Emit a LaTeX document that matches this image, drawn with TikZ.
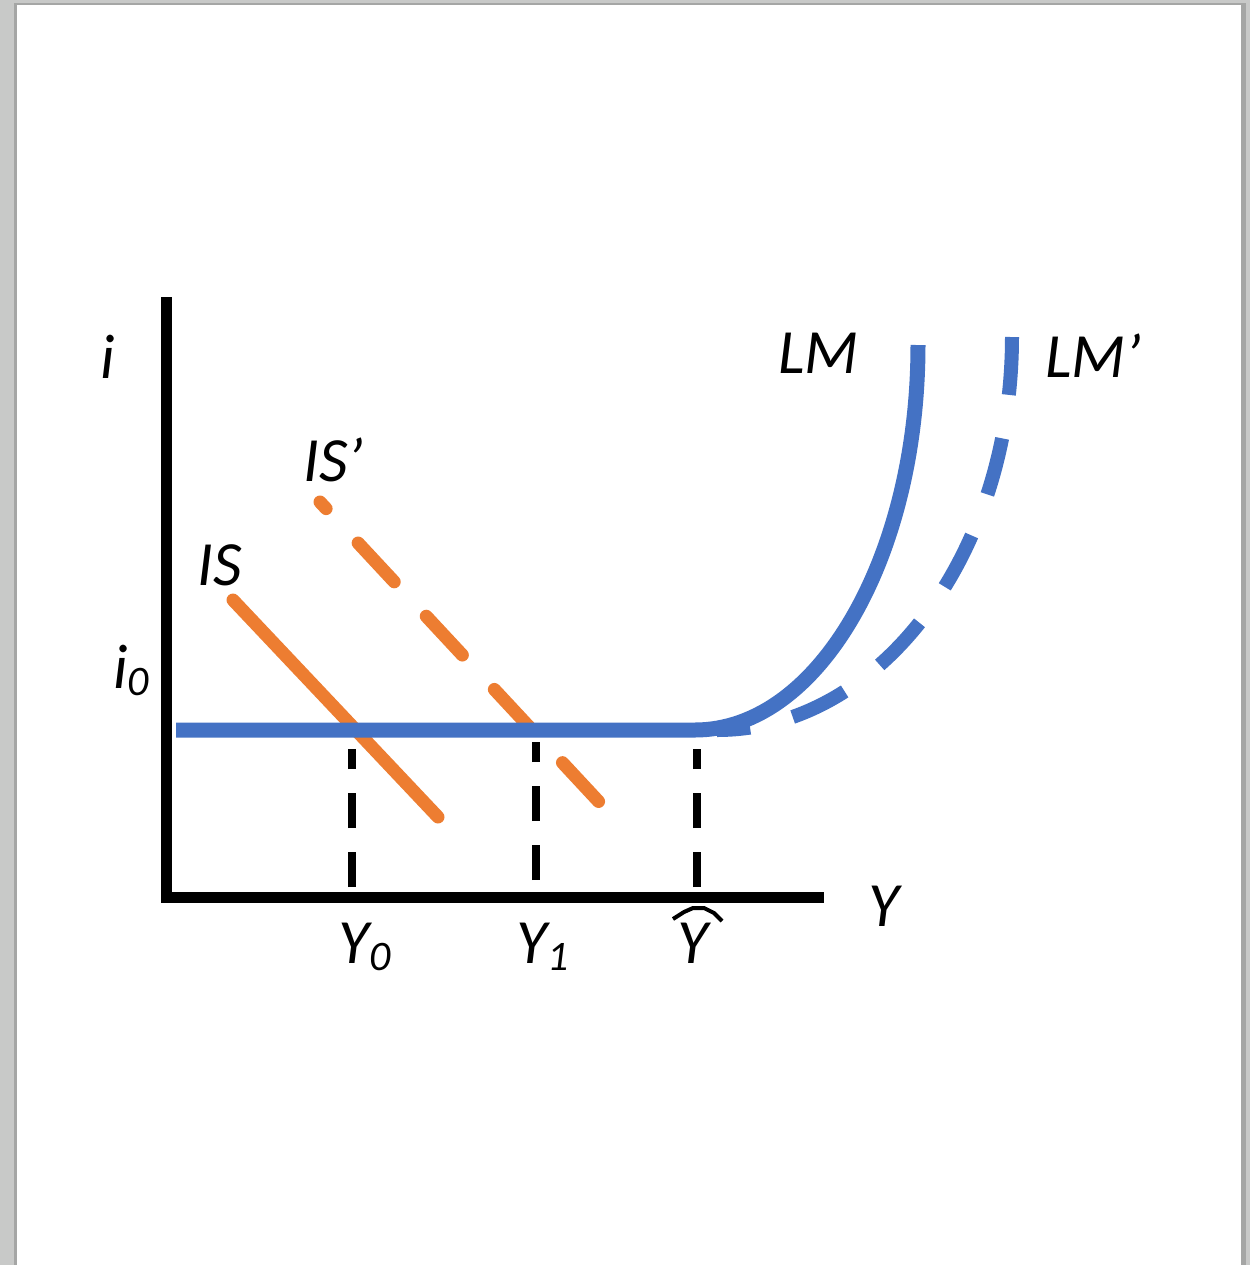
\documentclass[tikz,border=0pt]{standalone}
\usepackage{fontspec}
\setmainfont{Carlito}
\definecolor{lmblue}{HTML}{4472C4}
\definecolor{isorange}{HTML}{ED7D31}
\definecolor{pagegray}{RGB}{200,201,200}
\definecolor{shadowgray}{RGB}{165,166,165}
\tikzset{
  axisline/.style={line width=5.5pt, line cap=rect},
  lmline/.style={lmblue, line width=7.5pt},
  lmdash/.style={lmblue, line width=7pt, dash pattern=on 29pt off 22pt},
  isline/.style={isorange, line width=6.5pt, line cap=round},
  isdash/.style={isorange, line width=6.5pt, line cap=round, dash pattern=on 26.5pt off 23.5pt, dash phase=22pt},
  guide/.style={line width=3.75pt, dash pattern=on 17.5pt off 12pt},
  lbl/.style={inner sep=0pt, anchor=base west, font=\fontsize{31.5}{36}\selectfont\itshape},
}
\newcommand{\lsub}[1]{\raisebox{-3.8pt}{\fontsize{21}{21}\selectfont #1}}
\begin{document}
\begin{tikzpicture}[x=0.5pt,y=-0.5pt]
\useasboundingbox (0,0) rectangle (1250,1265);
% page background
\fill[pagegray] (0,0) rectangle (1250,1265);
\fill[shadowgray] (14,3) rectangle (1246,1265);
\fill[white] (17,5) rectangle (1241,1265);
% coordinates
\coordinate (ytop) at (166,302);
\coordinate (orig) at (166,897);
\coordinate (xend) at (818,897);
\coordinate (hstart) at (176,730);
\coordinate (kink) at (695,730);
\coordinate (lmptop) at (1012,337);
\coordinate (isA) at (233,600);
\coordinate (isB) at (438,817);
\coordinate (ispA) at (320,502);
\coordinate (ispB) at (600,803);
\coordinate (g0b) at (352,887); \coordinate (g0t) at (352,749);
\coordinate (g1b) at (536,880); \coordinate (g1t) at (536,742);
\coordinate (g2b) at (697,887); \coordinate (g2t) at (697,749);
% axes
\draw[axisline] (ytop) -- (orig) -- (xend);
% guides
\draw[guide] (g0b) -- (g0t);
\draw[guide] (g1b) -- (g1t);
\draw[guide] (g2b) -- (g2t);
% LM' dashed
\draw[lmdash] (lmptop) arc[start angle=0, end angle=90, x radius=295, y radius=393];
% IS curves
\draw[isline] (isA) -- (isB);
\draw[isdash] (ispA) -- (ispB);
% LM solid
\draw[lmline] (hstart) -- (kink) arc[start angle=90, end angle=0, x radius=223, y radius=385];
% labels
\node[lbl] (li) at (100,378) {i};
\node[lbl] (li0) at (113,688) {i\lsub{0}};
\node[lbl] (lisp) at (303,481) {IS’};
\node[lbl] (lis) at (197,585) {IS};
\node[lbl] (llm) at (778,373) {LM};
\node[lbl] (llmp) at (1045,377) {LM’};
\node[lbl] (lY) at (868,926) {Y};
\node[lbl] (lY0) at (338,963) {Y\lsub{0}};
\node[lbl] (lY1) at (516,963) {Y\lsub{1}};
\node[lbl] (lYh) at (677,963) {Y};
\draw[line width=2pt] (673,919) -- (684,912) -- (693,908) -- (704,908) -- (714,913) -- (722,921);
\end{tikzpicture}
\end{document}
